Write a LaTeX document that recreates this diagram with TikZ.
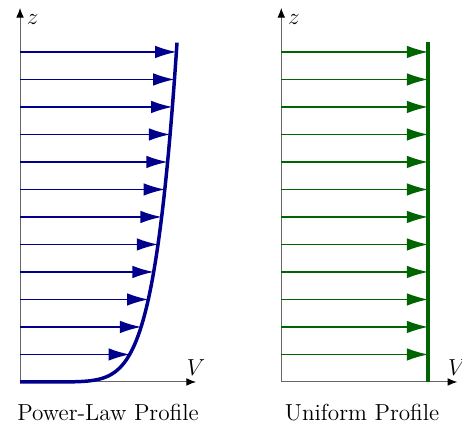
\documentclass[tikz,border=0pt]{standalone}
\usetikzlibrary{arrows.meta}
\definecolor{lawblue}{RGB}{0,0,140}
\definecolor{unigreen}{RGB}{0,100,0}

\begin{document}
\begin{tikzpicture}[font=\large,
    axis/.style={draw=gray!80!black, line width=0.5pt, -{Latex[length=5pt,width=4pt,black]}},
    flow/.style={line width=0.75pt, -{Latex[length=11pt,width=6.5pt]}},
    profile/.style={line width=1.8pt}]
    \useasboundingbox (-0.364,-0.818) rectangle (8.036,6.945);
    % power-law profile
    \coordinate (O1) at (0,0);
    \coordinate (z1) at (0,6.8);
    \coordinate (v1) at (3.2,0);
    \draw[axis] (O1) -- (z1) node[below right] (zlab1) {$z$};
    \draw[axis] (O1) -- (v1) node[above] (vlab1) {$V$};
    \foreach \k in {1,...,12} {
        \pgfmathsetmacro\zz{0.5*\k}
        \pgfmathsetmacro\vv{2.855*(\zz/6.18)^(1/7)}
        \coordinate (a\k) at (0,\zz);
        \coordinate (b\k) at (\vv,\zz);
        \draw[flow, lawblue] (a\k) -- (b\k);
    }
    \draw[profile, lawblue] plot[domain=0:2.855, samples=120, smooth] (\x, {6.18*(\x/2.855)^7});
    \node (lab1) at (1.6,-0.55) {Power-Law Profile};
    % uniform profile
    \begin{scope}[xshift=4.75cm]
        \coordinate (O2) at (0,0);
        \coordinate (z2) at (0,6.8);
        \coordinate (v2) at (3.2,0);
        \coordinate (top2) at (2.67,6.18);
        \coordinate (bot2) at (2.67,0);
        \draw[axis] (O2) -- (z2) node[below right] (zlab2) {$z$};
        \draw[axis] (O2) -- (v2) node[above] (vlab2) {$V$};
        \foreach \k in {1,...,12} {
            \coordinate (c\k) at (0,0.5*\k);
            \coordinate (d\k) at (2.67,0.5*\k);
            \draw[flow, unigreen] (c\k) -- (d\k);
        }
        \draw[profile, unigreen] (bot2) -- (top2);
        \node (lab2) at (1.47,-0.55) {Uniform Profile};
    \end{scope}
\end{tikzpicture}
\end{document}
